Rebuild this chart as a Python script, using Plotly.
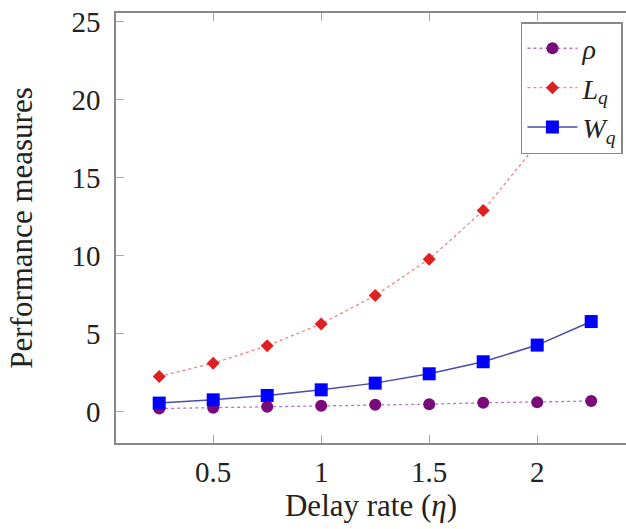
import plotly.graph_objects as go

eta = [0.25, 0.5, 0.75, 1.0, 1.25, 1.5, 1.75, 2.0, 2.25]
rho = [0.19, 0.24, 0.30, 0.37, 0.43, 0.47, 0.56, 0.60, 0.67]
Lq = [2.24, 3.10, 4.21, 5.62, 7.44, 9.77, 12.89, 17.16, 23.2]
Wq = [0.54, 0.75, 1.03, 1.39, 1.82, 2.42, 3.19, 4.26, 5.77]

xticks = [0.5, 1, 1.5, 2]
xticklabels = ["0.5", "1", "1.5", "2"]
yticks = [0, 5, 10, 15, 20, 25]

FONT = "Liberation Serif"

fig = go.Figure()
fig.add_trace(go.Scatter(
    x=eta, y=rho, name="<i>ρ</i>", mode="lines+markers",
    line=dict(color="#c070c0", width=1.3, dash="dot"),
    marker=dict(symbol="circle", size=12, color="#7a0a7a"),
))
fig.add_trace(go.Scatter(
    x=eta, y=Lq, name="<i>L</i><sub><i>q</i></sub>", mode="lines+markers",
    line=dict(color="#f08080", width=1.3, dash="dot"),
    marker=dict(symbol="diamond", size=10, color="#e02020"),
))
fig.add_trace(go.Scatter(
    x=eta, y=Wq, name="<i>W</i><sub><i>q</i></sub>", mode="lines+markers",
    line=dict(color="#4a4aa8", width=1.5),
    marker=dict(symbol="square", size=13, color="#0000ff"),
))

fig.update_layout(
    width=626, height=529,
    margin=dict(l=116, r=0, t=13, b=86),
    paper_bgcolor="white", plot_bgcolor="white",
    font=dict(family=FONT, size=29, color="#222"),
    showlegend=True,
    legend=dict(
        x=0.994, xanchor="right", y=0.979, yanchor="top",
        bgcolor="white", bordercolor="#888", borderwidth=1.5,
        font=dict(family=FONT, size=28, color="#222"),
        tracegroupgap=0, itemwidth=50,
    ),
)
fig.update_xaxes(
    range=[0.05, 0.05 + 510 / 216.0],
    tickvals=xticks, ticktext=xticklabels,
    ticks="inside", ticklen=8, tickcolor="#aaa", tickwidth=1,
    showline=True, linecolor="#888", linewidth=1.5, mirror="ticks",
    showgrid=False, zeroline=False,
    ticklabelstandoff=2,
    title=dict(text="Delay rate (<i>η</i>)", standoff=0, font=dict(size=31)),
    tickfont=dict(size=29),
)
fig.update_yaxes(
    range=[-2.02, 25.56],
    tickvals=yticks,
    ticks="inside", ticklen=8, tickcolor="#aaa", tickwidth=1,
    showline=True, linecolor="#888", linewidth=1.5, mirror=False,
    showgrid=False, zeroline=False,
    ticklabelstandoff=8,
    title=dict(text="Performance measures", standoff=30, font=dict(size=31)),
    tickfont=dict(size=29),
)

fig.write_html("out.html")
